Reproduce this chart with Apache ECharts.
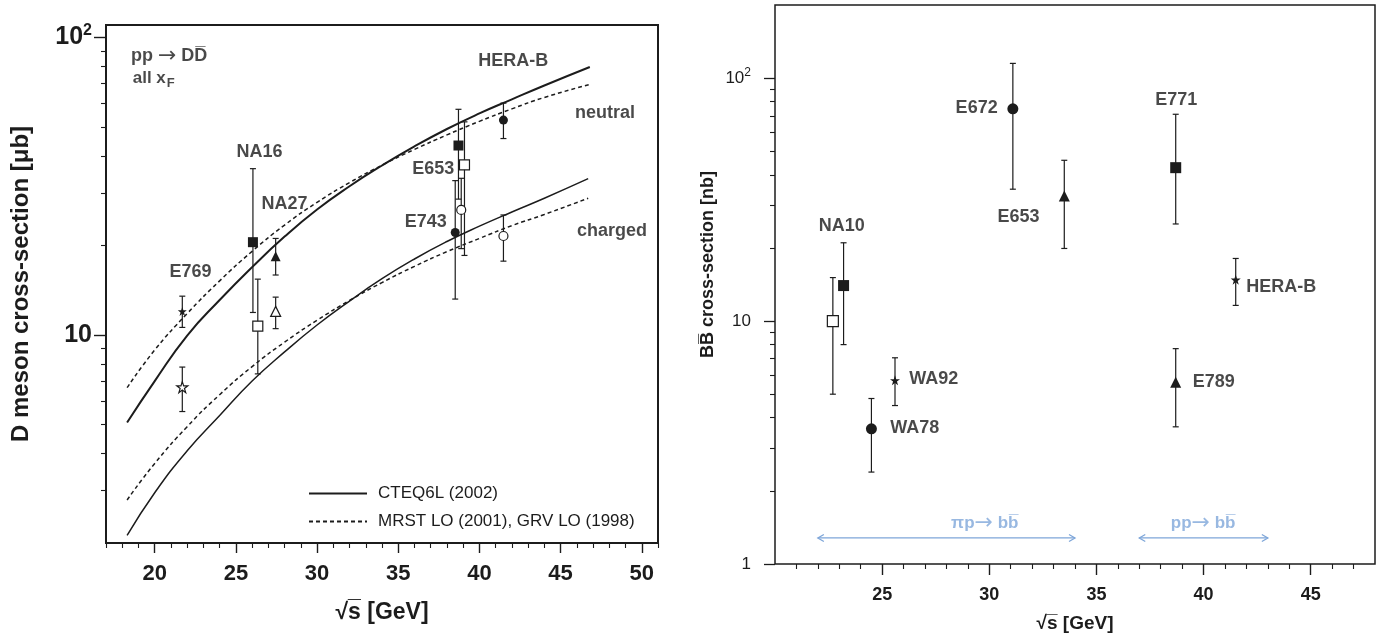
<!DOCTYPE html>
<html>
<head>
<meta charset="utf-8">
<script src="https://cdn.jsdelivr.net/npm/echarts@6/dist/echarts.min.js"></script>
<style>
  html, body { margin: 0; padding: 0; background: #fff; }
  #chart { width: 1379px; height: 635px; }
</style>
</head>
<body>
<div id="chart"></div>
<script>
// ---------- Left panel: pp -> D Dbar, D meson cross-section [ub] vs sqrt(s) ----------
// Theory curves, [sqrt(s), sigma]
const cteqNeutral = [[18.3, 5.08], [20, 7.0], [22, 9.95], [24, 13.1], [26, 16.9], [28, 21.4], [30, 26.4], [32, 31.6], [34, 37.1], [36, 43.0], [38, 49.2], [40, 55.5], [42, 61.9], [44, 68.9], [46.8, 79.5]];
const mrstNeutral = [[18.3, 6.65], [20, 8.9], [22, 11.8], [24, 15.2], [26, 19.1], [28, 23.4], [30, 27.9], [32, 32.5], [34, 37.2], [36, 42.0], [38, 47.0], [40, 52.2], [42, 57.5], [44, 62.8], [46.8, 69.5]];
const cteqCharged = [[18.3, 2.12], [20, 2.95], [22, 4.08], [24, 5.36], [26, 7.0], [28, 8.77], [30, 10.8], [32, 13.0], [34, 15.45], [36, 18.0], [38, 20.6], [40, 23.2], [42, 25.9], [44, 28.8], [46.7, 33.5]];
const mrstCharged = [[18.3, 2.79], [20, 3.7], [22, 4.92], [24, 6.3], [26, 7.83], [28, 9.46], [30, 11.2], [32, 13.06], [34, 15.0], [36, 17.0], [38, 19.05], [40, 21.1], [42, 23.3], [44, 25.4], [46.7, 28.8]];

// Measurements, [sqrt(s), sigma, sigma_low, sigma_high]
const dStarsFilled     = [[21.7, 12.0, 10.6, 13.5]];                                  // E769 neutral
const dStarsOpen       = [[21.7, 6.68, 5.53, 7.8]];                                   // E769 charged
const dSquaresFilled   = [[26.05, 20.5, 11.9, 36.2], [38.71, 43.3, 28.6, 57.3]];      // NA16, E653 neutral
const dSquaresOpen     = [[26.35, 10.7, 7.4, 15.4], [39.08, 37.3, 18.5, 52.0]];       // NA16, E653 charged
const dTrianglesFilled = [[27.45, 18.4, 15.9, 21.1]];                                 // NA27 neutral
const dTrianglesOpen   = [[27.45, 12.0, 10.5, 13.4]];                                 // NA27 charged
const dCirclesFilled   = [[38.51, 22.1, 13.2, 33.0], [41.48, 52.7, 45.7, 60.1]];      // E743, HERA-B neutral
const dCirclesOpen     = [[38.88, 26.3, 19.5, 33.6], [41.48, 21.5, 17.7, 25.3]];      // E743, HERA-B charged

// Ticks
const leftMajorX = [20, 25, 30, 35, 40, 45, 50];
const leftMinorX = [17, 18, 19, 21, 22, 23, 24, 26, 27, 28, 29, 31, 32, 33, 34, 36, 37, 38, 39, 41, 42, 43, 44, 46, 47, 48, 49, 51];
const leftMajorY = [10, 100];
const leftMinorY = [3, 4, 5, 6, 7, 8, 9, 20, 30, 40, 50, 60, 70, 80, 90];

// Text placed in data space: [sqrt(s), sigma]
const leftNotes = [
  { text: 'HERA-B', at: [42.08, 83.0] },
  { text: 'neutral', at: [47.74, 55.8] },
  { text: 'charged', at: [48.17, 22.3] },
  { text: 'NA16', at: [26.46, 41.1] },
  { text: 'NA27', at: [28.0, 27.5] },
  { text: 'E769', at: [22.21, 16.3] },
  { text: 'E653', at: [37.16, 36.1] },
  { text: 'E743', at: [36.7, 23.9] },
  { text: 'pp {ar|\u2192} DD\u0305', at: [20.89, 86.4] },
  { text: '{a|all x}{f|F}', at: [19.94, 72.8] }
];

// ---------- Right panel: B Bbar cross-section [nb] vs sqrt(s) ----------
const bSquaresOpen   = [[22.7, 10.0, 5.0, 15.1]];                                    // NA10
const bSquaresFilled = [[23.2, 14.0, 8.0, 21.0], [38.7, 42.8, 25.1, 71.0]];          // NA10, E771
const bCircles       = [[24.5, 3.6, 2.39, 4.8], [31.1, 74.8, 34.9, 115]];            // WA78, E672
const bStars         = [[25.6, 5.7, 4.49, 7.06], [41.5, 14.8, 11.6, 18.1]];          // WA92, HERA-B
const bTriangles     = [[33.5, 32.7, 19.9, 45.9], [38.7, 5.6, 3.67, 7.7]];           // E653, E789

// Beam ranges: [sqrt(s) from, sqrt(s) to, sigma level]
const beamRanges = [[22, 34, 1.28], [37, 43, 1.28]];

const rightMajorX = [25, 30, 35, 40, 45];
const rightMinorX = [21, 22, 23, 24, 26, 27, 28, 29, 31, 32, 33, 34, 36, 37, 38, 39, 41, 42, 43, 44, 46, 47];
const rightMajorY = [1, 10, 100];
const rightMinorY = [2, 3, 4, 5, 6, 7, 8, 9, 20, 30, 40, 50, 60, 70, 80, 90];

const rightNotes = [
  { text: 'NA10', at: [23.11, 24.5] },
  { text: 'E672', at: [29.41, 75.3] },
  { text: 'E653', at: [31.36, 26.7] },
  { text: 'E771', at: [38.73, 81.5] },
  { text: 'HERA-B', at: [43.62, 13.8] },
  { text: 'WA92', at: [27.41, 5.79] },
  { text: 'WA78', at: [26.52, 3.62] },
  { text: 'E789', at: [40.48, 5.63] }
];
const beamNotes = [
  { text: '\u03c0p{ar|\u2192} bb\u0305', at: [29.79, 1.47] },
  { text: 'pp{ar|\u2192} bb\u0305', at: [39.98, 1.47] }
];

// ---------- Styling ----------
const FONT = '"Liberation Sans", Arial, Helvetica, sans-serif';
const ARROW_FONT = '"DejaVu Sans", sans-serif';
const INK = '#1c1c1c';
const BLUE = '#7ea6d9';
const STAR = 'path://M50,2 L61.8,36.2 L97.6,36.2 L68.6,57.4 L79.4,91.6 L50,70.6 L20.6,91.6 L31.4,57.4 L2.4,36.2 L38.2,36.2 Z';

function errorBarItem(params, api) {
  const x = api.value(0);
  const lo = api.coord([x, api.value(2)]);
  const hi = api.coord([x, api.value(3)]);
  const cap = 3;
  const style = { stroke: INK, lineWidth: 1.2 };
  return {
    type: 'group',
    children: [
      { type: 'line', shape: { x1: lo[0], y1: lo[1], x2: hi[0], y2: hi[1] }, style },
      { type: 'line', shape: { x1: lo[0] - cap, y1: lo[1], x2: lo[0] + cap, y2: lo[1] }, style },
      { type: 'line', shape: { x1: hi[0] - cap, y1: hi[1], x2: hi[0] + cap, y2: hi[1] }, style }
    ]
  };
}

function rangeArrowItem(params, api) {
  const a = api.coord([api.value(0), api.value(2)]);
  const b = api.coord([api.value(1), api.value(2)]);
  const w = 6, h = 3.5;
  const style = { stroke: BLUE, lineWidth: 1.3, fill: null };
  return {
    type: 'group',
    children: [
      { type: 'line', shape: { x1: a[0], y1: a[1], x2: b[0], y2: b[1] }, style },
      { type: 'polyline', shape: { points: [[a[0] + w, a[1] - h], [a[0], a[1]], [a[0] + w, a[1] + h]] }, style },
      { type: 'polyline', shape: { points: [[b[0] - w, b[1] - h], [b[0], b[1]], [b[0] - w, b[1] + h]] }, style }
    ]
  };
}

function errorSeries(rows, xi, yi) {
  return {
    type: 'custom', xAxisIndex: xi, yAxisIndex: yi, data: rows, renderItem: errorBarItem,
    encode: { x: 0, y: 1 }, clip: false, silent: true, z: 3
  };
}

function markerSeries(rows, xi, yi, symbol, size, open) {
  return {
    type: 'scatter', xAxisIndex: xi, yAxisIndex: yi,
    data: rows.map(r => [r[0], r[1]]),
    symbol, symbolSize: size, clip: false, silent: true, z: 4,
    itemStyle: open ? { color: '#ffffff', borderColor: INK, borderWidth: 1.2, opacity: 1 } : { color: INK, opacity: 1 }
  };
}

function curveSeries(name, pts, width, dashed) {
  return {
    type: 'line', name, xAxisIndex: 0, yAxisIndex: 0, data: pts, smooth: true,
    symbol: 'none', showSymbol: false, silent: true, z: 2, color: INK,
    lineStyle: { color: INK, width, type: dashed ? [4, 3] : 'solid' }
  };
}

function notesSeries(notes, xi, yi, labelStyle) {
  return {
    type: 'scatter', xAxisIndex: xi, yAxisIndex: yi, symbolSize: 0, clip: false, silent: true, z: 6,
    data: notes.map(n => ({ value: n.at, label: { formatter: n.text } })),
    label: Object.assign({ show: true, position: 'inside', align: 'center', verticalAlign: 'middle', fontFamily: FONT }, labelStyle)
  };
}

function majorX(grid, min, max, ticks, o) {
  return {
    type: 'value', gridIndex: grid, min, max, position: 'bottom',
    axisLine: { show: false }, splitLine: { show: false },
    axisTick: { show: true, customValues: ticks, length: o.tick, lineStyle: { color: INK, width: 1.4 } },
    axisLabel: { customValues: ticks, margin: o.margin, fontFamily: FONT, fontSize: o.font, fontWeight: 'bold', color: INK },
    name: '\u221as\u0305 [GeV]', nameLocation: 'middle', nameGap: o.nameGap,
    nameTextStyle: { fontFamily: FONT, fontSize: o.nameFont, fontWeight: 'bold', color: INK }
  };
}

function minorAxis(type, grid, min, max, ticks, pos) {
  return {
    type, gridIndex: grid, min, max, position: pos,
    axisLine: { show: false }, splitLine: { show: false }, axisLabel: { show: false },
    axisTick: { show: true, customValues: ticks, length: 5, lineStyle: { color: INK, width: 1.1 } }
  };
}

function decadeLabel(v) {
  const e = Math.round(Math.log10(v));
  if (e >= 2) return '{n|10}{s|' + e + '}';
  return '{n|' + Math.round(v) + '}';
}

const chart = echarts.init(document.getElementById('chart'), null, { renderer: 'canvas' });

chart.setOption({
  animation: false,
  backgroundColor: '#ffffff',
  textStyle: { fontFamily: FONT },
  grid: [
    { left: 106, top: 25, width: 552, height: 518, show: true, borderColor: INK, borderWidth: 2, backgroundColor: 'transparent', outerBoundsMode: 'none' },
    { left: 775, top: 5, width: 600, height: 559, show: true, borderColor: INK, borderWidth: 1.5, backgroundColor: 'transparent', outerBoundsMode: 'none' }
  ],
  legend: {
    data: ['CTEQ6L (2002)', 'MRST LO (2001), GRV LO (1998)'],
    orient: 'vertical', left: 303, top: 480, itemWidth: 58, itemHeight: 14, itemGap: 11,
    selectedMode: false,
    itemStyle: { opacity: 0 },
    textStyle: { fontFamily: FONT, fontSize: 17, color: INK, padding: [0, 0, 0, 6] }
  },
  xAxis: [
    majorX(0, 17, 51, leftMajorX, { tick: 10, margin: 20, font: 22, nameGap: 58, nameFont: 23 }),
    minorAxis('value', 0, 17, 51, leftMinorX, 'bottom'),
    majorX(1, 20, 48, rightMajorX, { tick: 11, margin: 22, font: 18, nameGap: 50, nameFont: 19 }),
    minorAxis('value', 1, 20, 48, rightMinorX, 'bottom')
  ],
  yAxis: [
    {
      type: 'log', logBase: 10, gridIndex: 0, min: 2, max: 110, position: 'left',
      axisLine: { show: false }, splitLine: { show: false },
      axisTick: { show: true, customValues: leftMajorY, length: 12, lineStyle: { color: INK, width: 1.4 } },
      axisLabel: {
        customValues: leftMajorY, margin: 14, formatter: decadeLabel, color: INK,
        rich: {
          n: { fontFamily: FONT, fontSize: 25, fontWeight: 'bold', color: INK, lineHeight: 30 },
          s: { fontFamily: FONT, fontSize: 16, fontWeight: 'bold', color: INK, lineHeight: 18, verticalAlign: 'top' }
        }
      },
      name: 'D meson cross-section [\u03bcb]', nameLocation: 'middle', nameGap: 73, nameRotate: 90,
      nameTextStyle: { fontFamily: FONT, fontSize: 24, fontWeight: 'bold', color: INK }
    },
    minorAxis('log', 0, 2, 110, leftMinorY, 'left'),
    {
      type: 'log', logBase: 10, gridIndex: 1, min: 1, max: 200, position: 'left',
      axisLine: { show: false }, splitLine: { show: false },
      axisTick: { show: true, customValues: rightMajorY, length: 11, lineStyle: { color: INK, width: 1.3 } },
      axisLabel: {
        customValues: rightMajorY, margin: 24, formatter: decadeLabel, color: INK,
        rich: {
          n: { fontFamily: FONT, fontSize: 17, color: INK, lineHeight: 22 },
          s: { fontFamily: FONT, fontSize: 12, color: INK, lineHeight: 13, verticalAlign: 'top' }
        }
      },
      name: 'BB\u0305 cross-section [nb]', nameLocation: 'middle', nameGap: 58, nameRotate: 90,
      nameTextStyle: { fontFamily: FONT, fontSize: 18, fontWeight: 'bold', color: INK, padding: [0, 0, 0, 40] }
    },
    minorAxis('log', 1, 1, 200, rightMinorY, 'left')
  ],
  series: [
    curveSeries('CTEQ6L (2002)', cteqCharged, 1.5, false),
    curveSeries('CTEQ6L (2002)', cteqNeutral, 2, false),
    curveSeries('MRST LO (2001), GRV LO (1998)', mrstNeutral, 1.5, true),
    curveSeries('MRST LO (2001), GRV LO (1998)', mrstCharged, 1.5, true),

    errorSeries([].concat(dStarsFilled, dStarsOpen, dSquaresFilled, dSquaresOpen, dTrianglesFilled, dTrianglesOpen, dCirclesFilled, dCirclesOpen), 0, 0),
    markerSeries(dStarsFilled, 0, 0, STAR, 9, false),
    markerSeries(dStarsOpen, 0, 0, STAR, 11, true),
    markerSeries(dSquaresFilled, 0, 0, 'rect', 10, false),
    markerSeries(dSquaresOpen, 0, 0, 'rect', 10, true),
    markerSeries(dTrianglesFilled, 0, 0, 'triangle', 10, false),
    markerSeries(dTrianglesOpen, 0, 0, 'triangle', 10, true),
    markerSeries(dCirclesFilled, 0, 0, 'circle', 9, false),
    markerSeries(dCirclesOpen, 0, 0, 'circle', 9, true),
    notesSeries(leftNotes, 0, 0, {
      fontSize: 18, fontWeight: 'bold', color: INK,
      rich: {
        a: { fontFamily: FONT, fontSize: 17, fontWeight: 'bold', color: INK },
        f: { fontFamily: FONT, fontSize: 13, fontWeight: 'bold', color: INK, padding: [10, 0, 0, 1] },
        ar: { fontFamily: ARROW_FONT, fontSize: 22, fontWeight: 'normal', color: INK, lineHeight: 18 }
      }
    }),

    errorSeries([].concat(bSquaresOpen, bSquaresFilled, bCircles, bStars, bTriangles), 2, 2),
    markerSeries(bSquaresOpen, 2, 2, 'rect', 11, true),
    markerSeries(bSquaresFilled, 2, 2, 'rect', 11, false),
    markerSeries(bCircles, 2, 2, 'circle', 11, false),
    markerSeries(bStars, 2, 2, STAR, 10, false),
    markerSeries(bTriangles, 2, 2, 'triangle', 11, false),
    {
      type: 'custom', xAxisIndex: 2, yAxisIndex: 2, data: beamRanges, renderItem: rangeArrowItem,
      encode: { x: 0, y: 2 }, clip: false, silent: true, z: 3
    },
    notesSeries(rightNotes, 2, 2, { fontSize: 18, fontWeight: 'bold', color: INK }),
    notesSeries(beamNotes, 2, 2, {
      fontSize: 17, fontWeight: 'bold', color: BLUE,
      rich: { ar: { fontFamily: ARROW_FONT, fontSize: 22, fontWeight: 'normal', color: BLUE, lineHeight: 18 } }
    })
  ]
});
</script>
</body>
</html>
